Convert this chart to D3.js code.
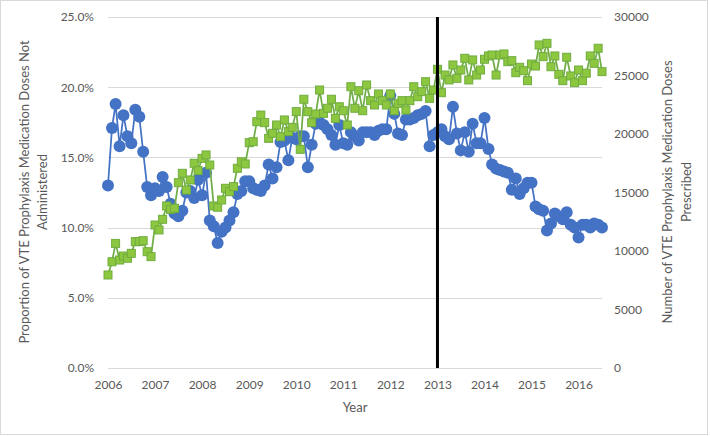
<!DOCTYPE html>
<html>
<head>
<meta charset="utf-8">
<script src="https://cdn.jsdelivr.net/npm/d3@7"></script>
<style>
    body { margin: 0; background: #fff; }
    svg { font-family: Lato, "Open Sans", sans-serif; }
</style>
</head>
<body>
<svg id="chart" width="710" height="436"></svg>
<script>
// monthly series, Jan 2006 onwards
const firstMonth = new Date(2006, 0, 1);

const notAdministered = [
    13.0, 17.1, 18.8, 15.8, 18.0, 16.5, 16.0, 18.4, 17.9, 15.4, 12.9, 12.3,
    12.8, 12.6, 13.6, 12.9, 11.7, 11.0, 10.8, 11.2, 12.5, 12.6, 12.1, 13.4,
    12.3, 13.9, 10.5, 10.1, 8.9, 9.7, 10.0, 10.5, 11.1, 12.4, 12.6, 13.3,
    13.3, 12.8, 12.7, 12.6, 13.0, 14.5, 13.5, 14.3, 16.1, 16.2, 14.8, 16.4,
    16.3, 16.5, 16.5, 14.3, 15.9, 17.4, 17.5, 17.3, 17.0, 16.6, 15.9, 17.3,
    16.0, 15.9, 16.8, 16.5, 16.2, 16.8, 16.8, 16.8, 16.6, 16.9, 17.0, 17.0,
    19.4, 18.1, 16.7, 16.6, 17.7, 17.7, 17.8, 18.0, 18.1, 18.3, 15.8, 16.6,
    16.8, 17.0, 16.5, 16.3, 18.6, 16.7, 15.5, 16.8, 15.4, 17.4, 16.0, 16.0,
    17.8, 15.6, 14.5, 14.2, 14.1, 14.0, 13.9, 12.7, 13.5, 12.4, 12.8, 13.2,
    13.2, 11.5, 11.3, 11.2, 9.8, 10.3, 11.0, 10.8, 10.6, 11.1, 10.2, 10.0,
    9.3, 10.2, 10.2, 10.0, 10.3, 10.2, 10.0
];

const prescribed = [
    7950, 9080, 10650, 9230, 9570, 9380, 9800, 10800, 10800, 10880, 9940, 9520,
    12220, 11800, 12710, 13850, 13560, 13650, 15840, 16640, 15210, 16070, 17500, 16870,
    17920, 18210, 17350, 13850, 13740, 14360, 15360, 15070, 15500, 17070, 17630, 17440,
    19260, 19340, 21050, 21620, 20970, 19630, 20060, 20770, 19770, 21200, 20200, 20570,
    21910, 18690, 22970, 21910, 20970, 21710, 23760, 21770, 22200, 22970, 21340, 22330,
    21990, 20770, 24040, 22200, 23700, 21990, 24190, 22850, 22480, 23420, 22850, 22480,
    23420, 21990, 22620, 22850, 22050, 22850, 24040, 23190, 23620, 24470, 23050, 23760,
    25530, 23530, 25040, 24620, 25900, 24760, 25470, 26470, 24620, 26330, 25040, 25470,
    26390, 26670, 26750, 25040, 26750, 26840, 26180, 26270, 25240, 25700, 25410, 24560,
    25980, 25810, 27610, 26610, 27750, 25750, 26670, 25100, 24560, 26560, 24960, 24390,
    25470, 24560, 25200, 26670, 26040, 27330, 25330
];

const leftTicks = [0, 5, 10, 15, 20, 25];
const rightTicks = [0, 5000, 10000, 15000, 20000, 25000, 30000];
const yearTicks = [2006, 2007, 2008, 2009, 2010, 2011, 2012, 2013, 2014, 2015, 2016];
const changeYear = 2013;

const months = notAdministered.map((_, i) => d3.timeMonth.offset(firstMonth, i));

const svg = d3.select("#chart");
const grey = "#595959";

const x = d3.scaleTime()
    .domain([months[0], months[months.length - 1]])
    .range([108, 602]);

const yLeft = d3.scaleLinear().domain([0, 25]).range([368, 17]);
const yRight = d3.scaleLinear().domain([0, 30000]).range([368, 17]);

// chart border
svg.append("rect")
    .attr("x", 0.5).attr("y", 0.5)
    .attr("width", 707).attr("height", 434)
    .attr("fill", "none")
    .attr("stroke", "#d9d9d9");

// gridlines
svg.append("g")
    .selectAll("line")
    .data(leftTicks)
    .join("line")
    .attr("x1", x.range()[0])
    .attr("x2", x.range()[1])
    .attr("y1", d => Math.round(yLeft(d)) + 0.5)
    .attr("y2", d => Math.round(yLeft(d)) + 0.5)
    .attr("stroke", "#d9d9d9")
    .attr("stroke-width", 1);

// axes, Excel look: labels only
function styleAxis(g) {
    g.select(".domain").remove();
    g.selectAll(".tick line").remove();
    g.selectAll(".tick text")
        .attr("fill", grey)
        .attr("font-size", 12)
        .attr("font-family", "Lato, 'Open Sans', sans-serif");
}

svg.append("g")
    .attr("transform", "translate(108,0)")
    .call(d3.axisLeft(yLeft).tickValues(leftTicks).tickFormat(d => d3.format(".1f")(d) + "%").tickSize(0).tickPadding(14))
    .call(styleAxis);

svg.append("g")
    .attr("transform", "translate(602,0)")
    .call(d3.axisRight(yRight).tickValues(rightTicks).tickFormat(d3.format("d")).tickSize(0).tickPadding(12))
    .call(styleAxis);

svg.append("g")
    .attr("transform", "translate(0,368)")
    .call(d3.axisBottom(x).tickValues(yearTicks.map(y => new Date(y, 0, 1))).tickFormat(d3.timeFormat("%Y")).tickSize(0).tickPadding(12))
    .call(styleAxis);

// axis titles
svg.append("text")
    .attr("x", 355).attr("y", 412)
    .attr("text-anchor", "middle")
    .attr("font-size", 13)
    .attr("fill", grey)
    .text("Year");

const leftTitle = svg.append("text")
    .attr("transform", "translate(29,192) rotate(-90)")
    .attr("text-anchor", "middle")
    .attr("font-size", 13)
    .attr("fill", grey);
leftTitle.append("tspan").attr("x", 0).attr("dy", 0).text("Proportion of VTE Prophylaxis Medication Doses Not");
leftTitle.append("tspan").attr("x", 0).attr("dy", 18).text("Administered");

const rightTitle = svg.append("text")
    .attr("transform", "translate(672,192) rotate(-90)")
    .attr("text-anchor", "middle")
    .attr("font-size", 13)
    .attr("fill", grey);
rightTitle.append("tspan").attr("x", 0).attr("dy", 0).text("Number of VTE Prophylaxis Medication Doses");
rightTitle.append("tspan").attr("x", 0).attr("dy", 19).text("Prescribed");

// proportion series (blue circles)
const blueLine = d3.line()
    .x((_, i) => x(months[i]))
    .y(d => yLeft(d));

svg.append("path")
    .datum(notAdministered)
    .attr("d", blueLine)
    .attr("fill", "none")
    .attr("stroke", "#4472C4")
    .attr("stroke-width", 1.75);

svg.append("g")
    .selectAll("circle")
    .data(notAdministered)
    .join("circle")
    .attr("cx", (_, i) => x(months[i]))
    .attr("cy", d => yLeft(d))
    .attr("r", 6)
    .attr("fill", "#4472C4");

// prescribed series (green squares)
const greenLine = d3.line()
    .x((_, i) => x(months[i]))
    .y(d => yRight(d));

svg.append("path")
    .datum(prescribed)
    .attr("d", greenLine)
    .attr("fill", "none")
    .attr("stroke", "#70AD47")
    .attr("stroke-width", 1.75);

const sq = 8;
svg.append("g")
    .selectAll("rect")
    .data(prescribed)
    .join("rect")
    .attr("x", (_, i) => x(months[i]) - sq / 2)
    .attr("y", d => yRight(d) - sq / 2)
    .attr("width", sq)
    .attr("height", sq)
    .attr("fill", "#8DC63F")
    .attr("stroke", "#6FAD3F")
    .attr("stroke-width", 1);

// intervention line
svg.append("line")
    .attr("x1", x(new Date(changeYear, 0, 1)))
    .attr("x2", x(new Date(changeYear, 0, 1)))
    .attr("y1", yLeft(25))
    .attr("y2", yLeft(0))
    .attr("stroke", "#000")
    .attr("stroke-width", 3);
</script>
</body>
</html>
